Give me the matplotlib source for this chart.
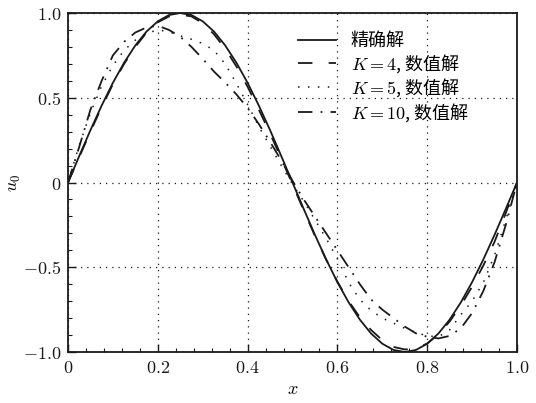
import matplotlib
matplotlib.use("Agg")
import matplotlib.pyplot as plt
from matplotlib.ticker import MultipleLocator, FixedLocator, FixedFormatter

plt.rcParams['mathtext.fontset'] = 'cm'
plt.rcParams['font.family'] = ['Noto Sans CJK SC', 'DejaVu Sans']

x = [0.0, 0.025, 0.05, 0.075, 0.1, 0.125, 0.15, 0.175, 0.2, 0.225, 0.25,
     0.275, 0.3, 0.325, 0.35, 0.375, 0.4, 0.425, 0.45, 0.475, 0.5,
     0.525, 0.55, 0.575, 0.6, 0.625, 0.65, 0.675, 0.7, 0.725, 0.75,
     0.775, 0.8, 0.825, 0.85, 0.875, 0.9, 0.925, 0.95, 0.975, 1.0]

exact = [0.0, 0.156, 0.309, 0.454, 0.588, 0.707, 0.809, 0.891, 0.951, 0.988, 1.0,
         0.988, 0.951, 0.891, 0.809, 0.707, 0.588, 0.454, 0.309, 0.156, 0.0,
         -0.156, -0.309, -0.454, -0.588, -0.707, -0.809, -0.891, -0.951, -0.988, -1.0,
         -0.988, -0.951, -0.891, -0.809, -0.707, -0.588, -0.454, -0.309, -0.156, 0.0]

k4 = [0.0, 0.15, 0.30, 0.445, 0.58, 0.70, 0.80, 0.885, 0.945, 0.98, 0.99,
      0.98, 0.94, 0.875, 0.79, 0.685, 0.565, 0.43, 0.29, 0.14, -0.01,
      -0.165, -0.315, -0.455, -0.585, -0.70, -0.795, -0.87, -0.93, -0.97, -0.985,
      -0.98, -0.95, -0.895, -0.82, -0.725, -0.615, -0.49, -0.35, -0.18, 0.0]

k5 = [0.0, 0.22, 0.41, 0.57, 0.69, 0.78, 0.84, 0.88, 0.90, 0.89, 0.865,
      0.845, 0.82, 0.78, 0.70, 0.585, 0.46, 0.33, 0.215, 0.10, -0.01,
      -0.11, -0.22, -0.33, -0.45, -0.59, -0.69, -0.755, -0.80, -0.83, -0.86,
      -0.885, -0.905, -0.91, -0.87, -0.78, -0.70, -0.59, -0.43, -0.22, 0.0]

k10 = [0.0, 0.21, 0.43, 0.60, 0.75, 0.83, 0.885, 0.915, 0.925, 0.90, 0.86,
       0.80, 0.73, 0.655, 0.59, 0.52, 0.44, 0.345, 0.24, 0.13, 0.01,
       -0.10, -0.20, -0.30, -0.40, -0.50, -0.60, -0.69, -0.75, -0.80, -0.85,
       -0.89, -0.91, -0.92, -0.905, -0.86, -0.77, -0.64, -0.47, -0.25, 0.0]

labels = ['精确解', '$K=4$, 数值解', '$K=5$, 数值解', '$K=10$, 数值解']

xticks = [0, 0.2, 0.4, 0.6, 0.8, 1.0]
xticklabels = ['$0$', '$0.2$', '$0.4$', '$0.6$', '$0.8$', '$1.0$']
yticks = [-1.0, -0.5, 0, 0.5, 1.0]
yticklabels = ['$-1.0$', '$-0.5$', '$0$', '$0.5$', '$1.0$']

fig = plt.figure(figsize=(5.36, 4.03), dpi=100)
ax = fig.add_axes([68/536, 1-352/403, (517-68)/536, (352-13)/403])

c = '#1a1a1a'
ax.plot(x, exact, color=c, lw=1.3, ls='-', label=labels[0])
ax.plot(x, k4, color=c, lw=1.3, ls=(0, (8, 9)), label=labels[1])
ax.plot(x, k5, color=c, lw=1.1, ls=(0, (1, 5.5)), label=labels[2])
ax.plot(x, k10, color=c, lw=1.3, ls=(0, (8, 4.5, 1, 4.5)), label=labels[3])

ax.set_xlim(0, 1)
ax.set_ylim(-1, 1)
ax.xaxis.set_major_locator(FixedLocator(xticks))
ax.xaxis.set_major_formatter(FixedFormatter(xticklabels))
ax.yaxis.set_major_locator(FixedLocator(yticks))
ax.yaxis.set_major_formatter(FixedFormatter(yticklabels))
ax.xaxis.set_minor_locator(MultipleLocator(0.04))
ax.yaxis.set_minor_locator(MultipleLocator(0.1))
ax.tick_params(which='both', direction='in', top=False, right=False,
               labelsize=13, colors=c, pad=5)
ax.tick_params(which='major', length=6, width=1)
ax.tick_params(which='minor', length=3, width=0.8)
for s in ax.spines.values():
    s.set_linewidth(1.3)
    s.set_color(c)

ax.grid(True, which='major', ls=(0, (1, 4)), color=c, lw=0.9)

ax.set_xlabel('$x$', fontsize=13, labelpad=2)
ax.set_ylabel('$u_0$', fontsize=13)
ax.yaxis.set_label_coords(-0.1, 0.5)

leg = ax.legend(loc='upper left', bbox_to_anchor=(0.471, 1.0), frameon=False,
                fontsize=13, handlelength=2.1, handletextpad=0.8,
                labelspacing=0.1, borderpad=0.2, borderaxespad=0.85)

fig.savefig('out.png', dpi=100)
